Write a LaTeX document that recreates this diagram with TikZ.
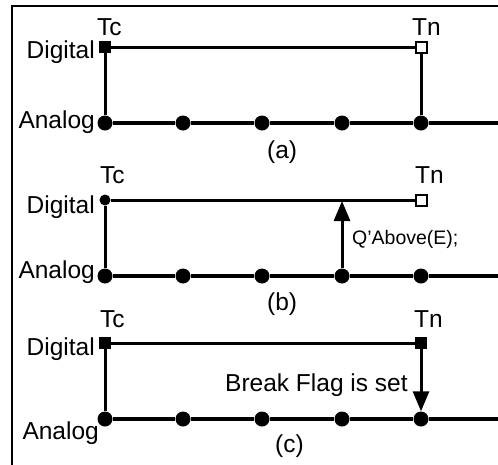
\documentclass[tikz,border=0pt]{standalone}
\usepackage{fontspec}
\setmainfont{Liberation Sans}
\usetikzlibrary{arrows.meta}
\begin{document}
\begin{tikzpicture}[x=1pt,y=-1pt,
  lbl/.style={inner sep=0pt,font=\fontsize{24.5}{28}\selectfont},
  smalllbl/.style={inner sep=0pt,font=\fontsize{19.5}{24}\selectfont},
  dot/.style={circle,fill,inner sep=0pt,minimum size=15pt},
  tdot/.style={circle,fill,inner sep=0pt,minimum size=11pt},
  fsq/.style={rectangle,fill,inner sep=0pt,minimum size=12pt},
  osq/.style={rectangle,draw,fill=white,line width=2pt,inner sep=0pt,minimum size=11pt},
  analog/.style={line width=4.5pt},
  digital/.style={line width=3pt},
  frameline/.style={line width=2.5pt},
  sig/.style={line width=3pt,-{Triangle[length=20pt,width=16pt]}}]
\useasboundingbox (0,0) rectangle (498,464);

% outer frame
\coordinate (f0) at (12,466);
\coordinate (f1) at (498,6);
\draw[frameline] (f0) |- (f1);

% ---------- (a) ----------
\node[fsq] (aTc) at (105,47) {};
\node[osq] (aTn) at (421,47) {};
\node[dot] (a1) at (105,123) {};
\node[dot] (a2) at (183,123) {};
\node[dot] (a3) at (262,123) {};
\node[dot] (a4) at (342,123) {};
\node[dot] (a5) at (421,123) {};
\coordinate (ae) at (498,123);
\draw[digital] (aTc) -- (aTn);
\draw[digital] (aTc) -- (a1);
\draw[digital] (aTn) -- (a5);
\draw[analog] (a1) -- (a2) -- (a3) -- (a4) -- (a5) -- (ae);
\node[lbl,anchor=base west] (aTcl) at (97,35) {Tc};
\node[lbl,anchor=base west] (aTnl) at (412,35) {Tn};
\node[lbl,anchor=base east] (aDl) at (95,58) {Digital};
\node[lbl,anchor=base east] (aAl) at (95,128) {Analog};
\node[lbl,anchor=base west] (acap) at (267,158) {(a)};

% ---------- (b) ----------
\node[tdot] (bTc) at (105,200) {};
\node[osq] (bTn) at (421,200) {};
\node[dot] (b1) at (105,276) {};
\node[dot] (b2) at (183,276) {};
\node[dot] (b3) at (262,276) {};
\node[dot] (b4) at (342,276) {};
\node[dot] (b5) at (421,276) {};
\coordinate (be) at (498,276);
\coordinate (bq) at (342,201);
\draw[digital] (bTc) -- (bTn);
\draw[digital] (bTc) -- (b1);
\draw[analog] (b1) -- (b2) -- (b3) -- (b4) -- (b5) -- (be);
\draw[sig] (b4) -- (bq);
\node[lbl,anchor=base west] (bTcl) at (100,183) {Tc};
\node[lbl,anchor=base west] (bTnl) at (415,183) {Tn};
\node[lbl,anchor=base east] (bDl) at (95,213) {Digital};
\node[lbl,anchor=base east] (bAl) at (95,278) {Analog};
\node[smalllbl,anchor=base west] (bqlabel) at (352,244) {Q’Above(E);};
\node[lbl,anchor=base west] (bcap) at (267,310) {(b)};

% ---------- (c) ----------
\node[fsq] (cTc) at (105,343) {};
\node[fsq] (cTn) at (421,343) {};
\node[dot] (c1) at (105,419) {};
\node[dot] (c2) at (183,419) {};
\node[dot] (c3) at (262,419) {};
\node[dot] (c4) at (342,419) {};
\node[dot] (c5) at (421,419) {};
\coordinate (ce) at (498,419);
\draw[digital] (cTc) -- (cTn);
\draw[digital] (cTc) -- (c1);
\draw[analog] (c1) -- (c2) -- (c3) -- (c4) -- (c5) -- (ce);
\draw[sig] (cTn) -- (c5);
\node[lbl,anchor=base west] (cTcl) at (100,327) {Tc};
\node[lbl,anchor=base west] (cTnl) at (414,327) {Tn};
\node[lbl,anchor=base east] (cDl) at (95,355) {Digital};
\node[lbl,anchor=base east] (cAl) at (99,439) {Analog};
\node[lbl,anchor=base west] (cflag) at (225,391) {Break Flag is set};
\node[lbl,anchor=base west] (ccap) at (275,452) {(c)};
\end{tikzpicture}
\end{document}
